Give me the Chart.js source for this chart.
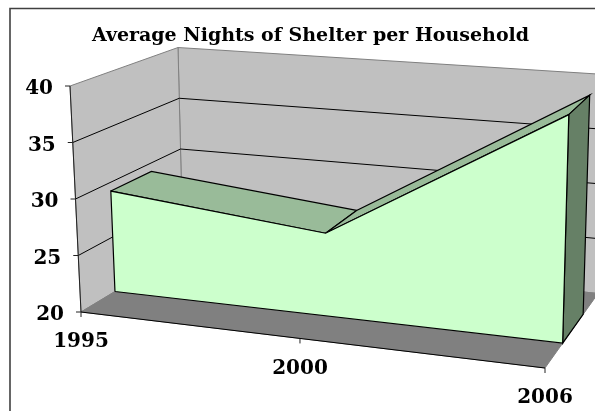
<!DOCTYPE html>
<html><head><meta charset="utf-8">
<style>html,body{margin:0;padding:0;background:#fff}#wrap{width:595px;height:411px}</style>
<script src="https://cdn.jsdelivr.net/npm/chart.js@4"></script>
</head><body><div id="wrap"><canvas id="c" width="595" height="411"></canvas></div>
<script>
const chartTitle = 'Average Nights of Shelter per Household';
const years = ['1995', '2000', '2006'];
const nights = [29.2, 27.3, 39.4];
const valueTicks = [20, 25, 30, 35, 40];

// 3-D view: where the eight corners of the plot box land, and perspective
const BOX = {
  fl0:[81,312], fl1:[70,86], bl0:[183,250.5], bl1:[178,47.5],
  fr0:[545,368], fr1:[551,124], br0:[598,293.5], br1:[605,74.5]
};
const PERSP = 1.119, AREA_D0 = 0.333, AREA_D1 = 0.72;
const VMIN = valueTicks[0], VMAX = valueTicks[valueTicks.length-1];
const lerp = (a,b,t)=>[a[0]+(b[0]-a[0])*t, a[1]+(b[1]-a[1])*t];
const warp = t => t/(t+PERSP*(1-t));
function project(cat, depth, value){
  const u = warp(cat/(years.length-1)), v = (value-VMIN)/(VMAX-VMIN);
  const f = lerp(lerp(BOX.fl0,BOX.fr0,u), lerp(BOX.fl1,BOX.fr1,u), v);
  const b = lerp(lerp(BOX.bl0,BOX.br0,u), lerp(BOX.bl1,BOX.br1,u), v);
  const p = lerp(f,b,depth);
  return {x:p[0], y:p[1]};
}
const last = years.length-1;
const poly = pts => pts.concat([pts[0]]);
function shape(pts, fill, stroke, width){
  return {data:poly(pts), showLine:true, fill:'shape', backgroundColor:fill, borderColor:stroke,
          borderWidth:width, pointRadius:0, tension:0, clip:false, borderJoinStyle:'miter'};
}
function line(pts, stroke, width){
  return {data:pts, showLine:true, fill:false, borderColor:stroke, borderWidth:width,
          pointRadius:0, tension:0, clip:false};
}
const layers = [];
// walls and floor
layers.push(shape([project(0,1,VMIN),project(0,1,VMAX),project(last,1,VMAX),project(last,1,VMIN)],'#C0C0C0','#808080',1));
layers.push(shape([project(0,0,VMIN),project(0,0,VMAX),project(0,1,VMAX),project(0,1,VMIN)],'#C0C0C0','#808080',1));
layers.push(shape([project(0,0,VMIN),project(0,1,VMIN),project(last,1,VMIN),project(last,0,VMIN)],'#808080','#808080',1));
// gridlines
valueTicks.slice(1,-1).forEach(v=>layers.push(line([project(0,0,v),project(0,1,v),project(last,1,v)],'#000',1)));
// axis lines and ticks
layers.push(line([project(0,0,VMAX),project(0,0,VMIN)],'#222',1));
layers.push(line([project(0,0,VMIN),project(last,0,VMIN)],'#000',1));
// area: top faces, end face, front face
for(let i=0;i<last;i++){
  layers.push(shape([project(i,AREA_D0,nights[i]),project(i,AREA_D1,nights[i]),project(i+1,AREA_D1,nights[i+1]),project(i+1,AREA_D0,nights[i+1])],'#99BB99','#000',1.2));
}
layers.push(shape([project(last,AREA_D0,nights[last]),project(last,AREA_D1,nights[last]),project(last,AREA_D1,VMIN),project(last,AREA_D0,VMIN)],'#668066','#000',1.2));
layers.push(shape([project(0,AREA_D0,VMIN)].concat(nights.map((n,i)=>project(i,AREA_D0,n))).concat([project(last,AREA_D0,VMIN)]),'#CCFFCC','#000',1.2));

const TITLE_SIZE = 19, TITLE_PAD_TOP = 25, TITLE_PAD_BOTTOM = 0, TITLE_LH = 1.2;
const AREA_TOP = TITLE_PAD_TOP + TITLE_SIZE*TITLE_LH + TITLE_PAD_BOTTOM;
const LEFT_PAD = 26;
const LABEL_FONT = 'bold 20px "DejaVu Serif"';

const decor = {
  id:'decor',
  beforeDraw(chart){
    const c = chart.ctx; c.save();
    c.strokeStyle='#404040'; c.lineWidth=1.6;
    c.beginPath(); c.moveTo(10,420); c.lineTo(10,8.5); c.lineTo(600,8.5); c.stroke();
    c.restore();
  },
  afterDatasetsDraw(chart){
    const c = chart.ctx, X = chart.scales.x, Y = chart.scales.y; c.save();
    c.strokeStyle='#222'; c.lineWidth=1; c.fillStyle='#000';
    c.font = LABEL_FONT; c.textBaseline='middle';
    valueTicks.forEach(v=>{
      const p = project(0,0,v), x = X.getPixelForValue(p.x), y = Y.getPixelForValue(p.y);
      c.beginPath(); c.moveTo(x-5,y); c.lineTo(x,y); c.stroke();
      c.textAlign='right'; c.fillText(String(v), x-17, y+3);
    });
    years.forEach((t,i)=>{
      const p = project(i,0,VMIN), x = X.getPixelForValue(p.x), y = Y.getPixelForValue(p.y);
      c.beginPath(); c.moveTo(x,y); c.lineTo(x,y+5); c.stroke();
      c.textAlign='center'; c.fillText(t, x, y+30);
    });
    c.restore();
  }
};

new Chart(document.getElementById('c'), {
  type:'scatter',
  data:{datasets: layers.map((d,i)=>Object.assign(d,{order:layers.length-i}))},
  options:{
    responsive:false, animation:false, events:[],
    layout:{padding:{left:LEFT_PAD,right:0,top:0,bottom:0}},
    plugins:{
      legend:{display:false}, tooltip:{enabled:false},
      title:{display:true,text:chartTitle,fullSize:false,color:'#000',
             font:{family:'"DejaVu Serif"',size:TITLE_SIZE,weight:'bold',lineHeight:TITLE_LH},
             padding:{top:TITLE_PAD_TOP,bottom:TITLE_PAD_BOTTOM}}
    },
    scales:{
      x:{type:'linear',display:false,min:LEFT_PAD,max:595},
      y:{type:'linear',display:false,reverse:true,min:AREA_TOP,max:411}
    }
  },
  plugins:[decor]
});
</script></body></html>
